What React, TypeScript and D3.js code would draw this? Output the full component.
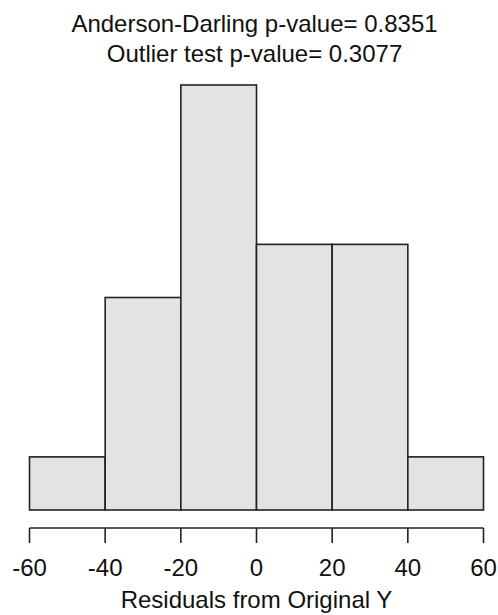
import React from "react";
import * as d3 from "d3";

const binEdges = [-60, -40, -20, 0, 20, 40, 60];
const counts = [1, 4, 8, 5, 5, 1];
const xTicks = [-60, -40, -20, 0, 20, 40, 60];
const titleLines = ["Anderson-Darling p-value= 0.8351", "Outlier test p-value= 0.3077"];
const xLabel = "Residuals from Original Y";

const W = 498;
const H = 615;

export default function App() {
  const x = d3.scaleLinear().domain([-60, 60]).range([29.5, 483.5]);
  const y = d3.scaleLinear().domain([0, 8]).range([510, 85]);
  const bins = counts.map((c, i) => ({ x0: binEdges[i], x1: binEdges[i + 1], c }));
  const font = "'Liberation Sans', Arial, sans-serif";
  const axisY = 528;
  const cx = (x.range()[0] + x.range()[1]) / 2;
  return (
    <svg
      width={W}
      height={H}
      style={{ position: "absolute", left: 0, top: 0, background: "#fff" }}
      fontFamily={font}
    >
      <rect x={0} y={0} width={W} height={H} fill="#fff" />
      {bins.map((b, i) => (
        <rect
          key={i}
          x={x(b.x0)}
          y={y(b.c)}
          width={x(b.x1) - x(b.x0)}
          height={y(0) - y(b.c)}
          fill="#e3e3e3"
          stroke="#222"
          strokeWidth={1.6}
        />
      ))}
      <line x1={x(-60)} x2={x(60)} y1={axisY} y2={axisY} stroke="#222" strokeWidth={1.6} />
      {xTicks.map((t) => (
        <g key={t}>
          <line x1={x(t)} x2={x(t)} y1={axisY} y2={axisY + 15} stroke="#222" strokeWidth={1.6} />
          <text x={x(t)} y={576} textAnchor="middle" fontSize={24} fill="#111">
            {t}
          </text>
        </g>
      ))}
      <text x={cx} y={608} textAnchor="middle" fontSize={24} fill="#111">
        {xLabel}
      </text>
      {titleLines.map((t, i) => (
        <text key={i} x={cx - 2} y={32 + i * 30} textAnchor="middle" fontSize={24} fill="#111">
          {t}
        </text>
      ))}
    </svg>
  );
}
